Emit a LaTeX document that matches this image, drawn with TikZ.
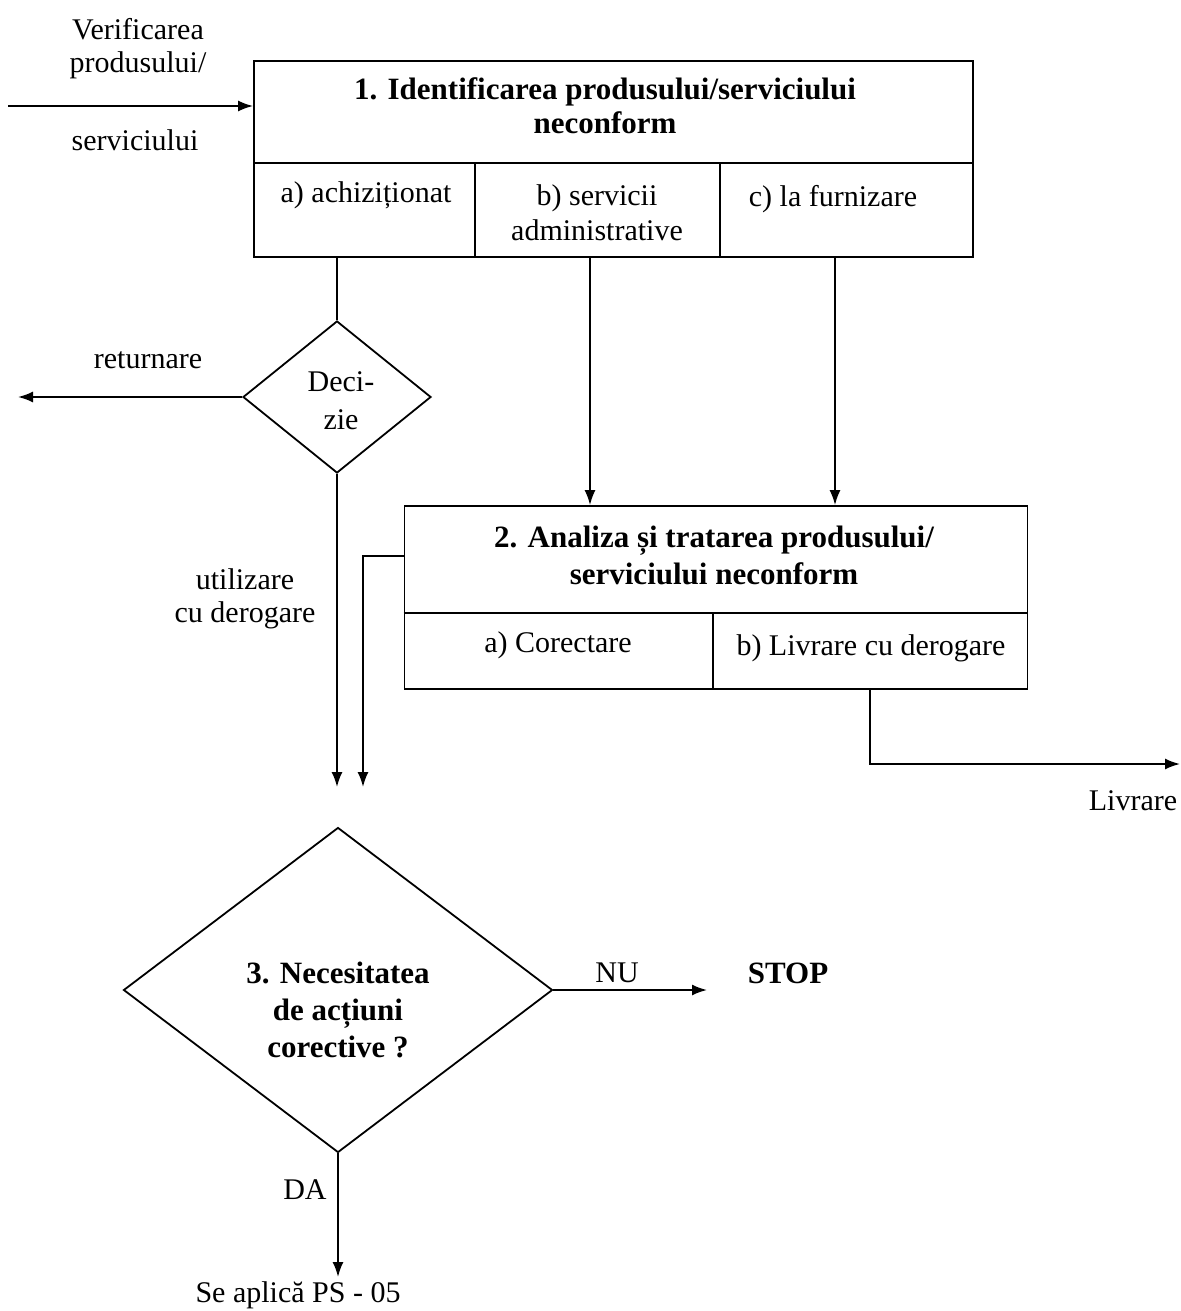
\documentclass[tikz,border=0pt]{standalone}
\usepackage{fontspec}
\setmainfont{Liberation Serif}
\usetikzlibrary{arrows.meta,shapes.geometric}
\begin{document}
\begin{tikzpicture}[x=0.5pt,y=-0.5pt,
  every node/.style={font=\fontsize{15}{16.5}\selectfont},
  lbl/.style={inner sep=0pt,align=center},
  bld/.style={font=\fontsize{15.5}{18}\selectfont\bfseries},
  bx/.style={draw,line width=0.9pt,rectangle,inner sep=0pt},
  dia/.style={draw,line width=0.9pt,diamond,inner sep=0pt},
  ln/.style={line width=0.9pt},
  arr/.style={line width=0.9pt,-{Latex[length=7.5pt,width=5.5pt]}}]
\useasboundingbox (0,0) rectangle (1181,1311);
% Box 1
\node[bx,minimum width=359.5pt,minimum height=98pt] (box1) at (613.5,159) {};
\coordinate (d1) at (0,163);
\draw[ln] (box1.west |- d1) -- (box1.east |- d1);
\coordinate (v1) at (475,0);
\coordinate (v2) at (720,0);
\draw[ln] (v1 |- d1) -- (v1 |- box1.south);
\draw[ln] (v2 |- d1) -- (v2 |- box1.south);
\node[lbl,bld,font=\fontsize{15.5}{17}\selectfont\bfseries] (t1) at (605,106) {1. Identificarea produsului/serviciului\\neconform};
\node[lbl] (c1a) at (366,195) {a) achiziționat};
\node[lbl,font=\fontsize{15}{17.5}\selectfont] (c1b) at (597,213) {b) servicii\\administrative};
\node[lbl] (c1c) at (833,199) {c) la furnizare};
% Input
\node[lbl] (ver) at (138,49) {Verificarea\\produsului/};
\node[lbl] (serv) at (135,140) {serviciului};
\coordinate (in) at (8,106);
\draw[arr] (in) -- (in -| box1.west);
% Decizie
\node[dia,minimum width=94pt,minimum height=76pt] (dec) at (337,397) {};
\node[lbl,font=\fontsize{15}{19}\selectfont] (dect) at (341,401) {Deci-\\zie};
\draw[ln] (dec.north |- box1.south) -- (dec.north);
\coordinate (ret) at (18,0);
\draw[arr] (dec.west) -- (ret |- dec.west);
\node[lbl] (retl) at (148,360) {returnare};
\coordinate (dn) at (0,787);
\draw[arr] (dec.south) -- (dec.south |- dn);
\node[lbl] (util) at (245,599) {utilizare\\cu derogare};
% Box 2
\node[bx,minimum width=311.5pt,minimum height=91.5pt] (box2) at (716,597.5) {};
\coordinate (d2) at (0,613);
\draw[ln] (box2.west |- d2) -- (box2.east |- d2);
\coordinate (v3) at (713,0);
\draw[ln] (v3 |- d2) -- (v3 |- box2.south);
\node[lbl,font=\fontsize{15.5}{18.5}\selectfont\bfseries] (t2) at (714,555) {2. Analiza și tratarea produsului/\\serviciului neconform};
\node[lbl] (c2a) at (558,645) {a) Corectare};
\node[lbl] (c2b) at (871,648) {b) Livrare cu derogare};
% arrows into box 2
\coordinate (xb) at (590,0);
\coordinate (xc) at (835,0);
\draw[arr] (xb |- box1.south) -- (xb |- box2.north);
\draw[arr] (xc |- box1.south) -- (xc |- box2.north);
% loop from box 2
\coordinate (ly) at (0,556);
\coordinate (lx) at (363,787);
\draw[arr] (box2.west |- ly) -| (lx);
% Livrare
\coordinate (lv0) at (870,0);
\coordinate (liv) at (1180,764);
\draw[arr] (lv0 |- box2.south) |- (liv);
\node[lbl] (livl) at (1133,801) {Livrare};
% Decision 3
\node[dia,minimum width=214.5pt,minimum height=162.5pt] (q) at (338,990) {};
\node[lbl,font=\fontsize{15.5}{18.3}\selectfont\bfseries] (qt) at (338,1010) {3. Necesitatea\\de acțiuni\\corective ?};
\coordinate (nu) at (707,0);
\draw[arr] (q.east) -- (nu |- q.east);
\node[lbl] (nul) at (617,973) {NU};
\node[lbl,font=\fontsize{15.5}{18}\selectfont\bfseries] (stop) at (788,973) {STOP};
\coordinate (da) at (0,1277);
\draw[arr] (q.south) -- (q.south |- da);
\node[lbl] (dal) at (305,1190) {DA};
\node[lbl] (ps) at (298,1295) {Se aplică PS - 05};
\end{tikzpicture}
\end{document}
